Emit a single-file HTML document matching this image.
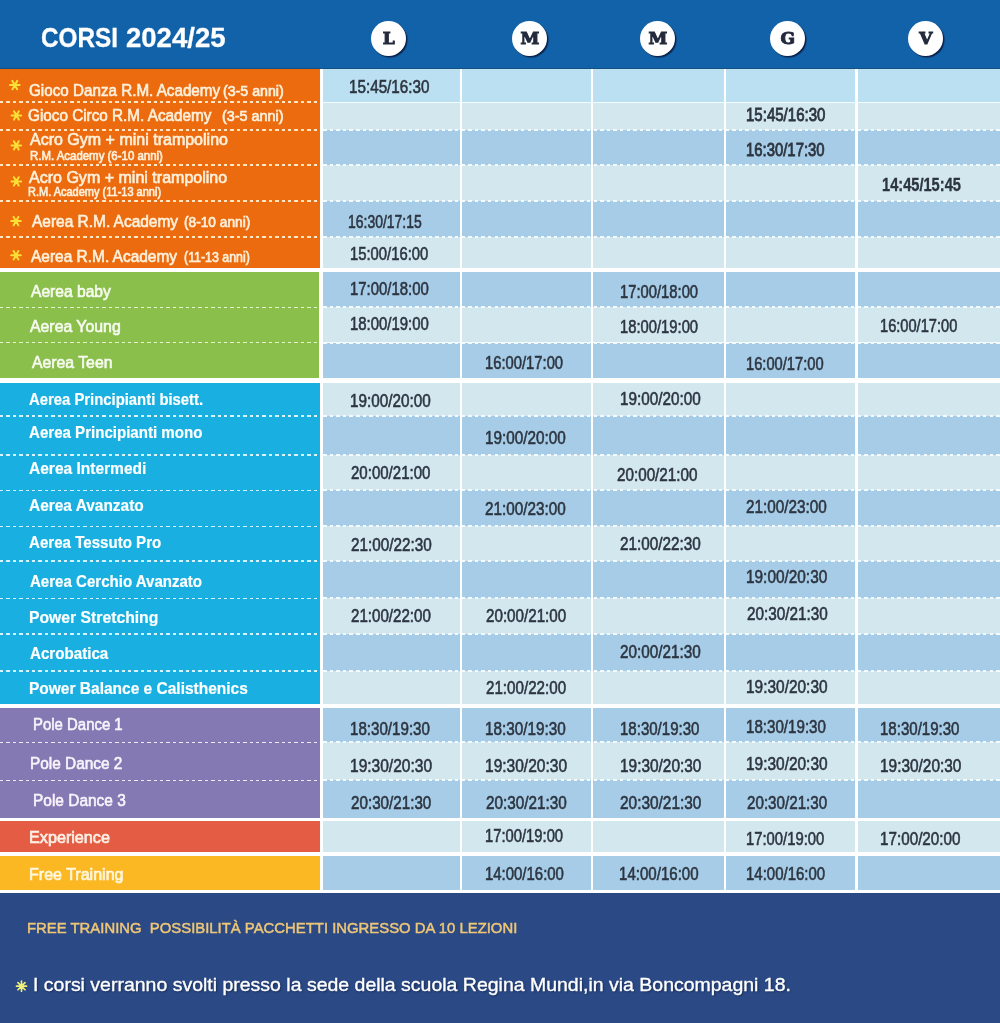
<!DOCTYPE html>
<html lang="it"><head><meta charset="utf-8"><title>Corsi 2024/25</title>
<style>
html,body{margin:0;padding:0}
body{width:1000px;height:1023px;position:relative;overflow:hidden;background:#fff;font-family:"Liberation Sans",Arial,sans-serif}
.a{position:absolute}
.t{position:absolute;white-space:nowrap;line-height:1;transform-origin:0 0}
.circ{position:absolute;width:35px;height:35px;border-radius:50%;background:#fff;box-shadow:1.5px 1.5px 1px rgba(10,25,60,.85);text-align:center;font:bold 17px/35px "DejaVu Serif","Liberation Serif",serif;color:#232a3c;-webkit-text-stroke:1px #232a3c}
</style></head><body>

<div class="a" style="left:0;top:0;width:1000px;height:69px;background:#1262a9"></div>
<div class="a" style="left:0;top:67.5px;width:1000px;height:1.5px;background:#16507f"></div>
<div class="a" style="left:0;top:69.0px;width:320px;height:198.5px;background:#ec6b0e"></div>
<div class="a" style="left:0;top:272.0px;width:319px;height:106.4px;background:#8bbf4c"></div>
<div class="a" style="left:0;top:383.0px;width:320px;height:321.3px;background:#19b0e1"></div>
<div class="a" style="left:0;top:708.2px;width:320px;height:109.5px;background:#8579b3"></div>
<div class="a" style="left:0;top:821.3px;width:320px;height:31.2px;background:#e35c43"></div>
<div class="a" style="left:0;top:856.0px;width:320px;height:33.7px;background:#fbb823"></div>
<div class="a" style="left:323px;top:69.0px;width:137px;height:33.0px;background:#bbe0f2"></div>
<div class="a" style="left:462px;top:69.0px;width:129px;height:33.0px;background:#bbe0f2"></div>
<div class="a" style="left:593px;top:69.0px;width:131px;height:33.0px;background:#bbe0f2"></div>
<div class="a" style="left:726px;top:69.0px;width:129px;height:33.0px;background:#bbe0f2"></div>
<div class="a" style="left:858px;top:69.0px;width:142px;height:33.0px;background:#bbe0f2"></div>
<div class="a" style="left:323px;top:102.0px;width:137px;height:28.0px;background:#d3e7ef"></div>
<div class="a" style="left:462px;top:102.0px;width:129px;height:28.0px;background:#d3e7ef"></div>
<div class="a" style="left:593px;top:102.0px;width:131px;height:28.0px;background:#d3e7ef"></div>
<div class="a" style="left:726px;top:102.0px;width:129px;height:28.0px;background:#d3e7ef"></div>
<div class="a" style="left:858px;top:102.0px;width:142px;height:28.0px;background:#d3e7ef"></div>
<div class="a" style="left:323px;top:130.0px;width:137px;height:35.0px;background:#a6cce7"></div>
<div class="a" style="left:462px;top:130.0px;width:129px;height:35.0px;background:#a6cce7"></div>
<div class="a" style="left:593px;top:130.0px;width:131px;height:35.0px;background:#a6cce7"></div>
<div class="a" style="left:726px;top:130.0px;width:129px;height:35.0px;background:#a6cce7"></div>
<div class="a" style="left:858px;top:130.0px;width:142px;height:35.0px;background:#a6cce7"></div>
<div class="a" style="left:323px;top:165.0px;width:137px;height:35.5px;background:#d3e7ef"></div>
<div class="a" style="left:462px;top:165.0px;width:129px;height:35.5px;background:#d3e7ef"></div>
<div class="a" style="left:593px;top:165.0px;width:131px;height:35.5px;background:#d3e7ef"></div>
<div class="a" style="left:726px;top:165.0px;width:129px;height:35.5px;background:#d3e7ef"></div>
<div class="a" style="left:858px;top:165.0px;width:142px;height:35.5px;background:#d3e7ef"></div>
<div class="a" style="left:323px;top:200.5px;width:137px;height:36.0px;background:#a6cce7"></div>
<div class="a" style="left:462px;top:200.5px;width:129px;height:36.0px;background:#a6cce7"></div>
<div class="a" style="left:593px;top:200.5px;width:131px;height:36.0px;background:#a6cce7"></div>
<div class="a" style="left:726px;top:200.5px;width:129px;height:36.0px;background:#a6cce7"></div>
<div class="a" style="left:858px;top:200.5px;width:142px;height:36.0px;background:#a6cce7"></div>
<div class="a" style="left:323px;top:236.5px;width:137px;height:31.0px;background:#d3e7ef"></div>
<div class="a" style="left:462px;top:236.5px;width:129px;height:31.0px;background:#d3e7ef"></div>
<div class="a" style="left:593px;top:236.5px;width:131px;height:31.0px;background:#d3e7ef"></div>
<div class="a" style="left:726px;top:236.5px;width:129px;height:31.0px;background:#d3e7ef"></div>
<div class="a" style="left:858px;top:236.5px;width:142px;height:31.0px;background:#d3e7ef"></div>
<div class="a" style="left:323px;top:272.0px;width:137px;height:35.4px;background:#a6cce7"></div>
<div class="a" style="left:462px;top:272.0px;width:129px;height:35.4px;background:#a6cce7"></div>
<div class="a" style="left:593px;top:272.0px;width:131px;height:35.4px;background:#a6cce7"></div>
<div class="a" style="left:726px;top:272.0px;width:129px;height:35.4px;background:#a6cce7"></div>
<div class="a" style="left:858px;top:272.0px;width:142px;height:35.4px;background:#a6cce7"></div>
<div class="a" style="left:323px;top:307.4px;width:137px;height:35.1px;background:#d3e7ef"></div>
<div class="a" style="left:462px;top:307.4px;width:129px;height:35.1px;background:#d3e7ef"></div>
<div class="a" style="left:593px;top:307.4px;width:131px;height:35.1px;background:#d3e7ef"></div>
<div class="a" style="left:726px;top:307.4px;width:129px;height:35.1px;background:#d3e7ef"></div>
<div class="a" style="left:858px;top:307.4px;width:142px;height:35.1px;background:#d3e7ef"></div>
<div class="a" style="left:323px;top:342.5px;width:137px;height:35.9px;background:#a6cce7"></div>
<div class="a" style="left:462px;top:342.5px;width:129px;height:35.9px;background:#a6cce7"></div>
<div class="a" style="left:593px;top:342.5px;width:131px;height:35.9px;background:#a6cce7"></div>
<div class="a" style="left:726px;top:342.5px;width:129px;height:35.9px;background:#a6cce7"></div>
<div class="a" style="left:858px;top:342.5px;width:142px;height:35.9px;background:#a6cce7"></div>
<div class="a" style="left:323px;top:383.0px;width:137px;height:33.0px;background:#d3e7ef"></div>
<div class="a" style="left:462px;top:383.0px;width:129px;height:33.0px;background:#d3e7ef"></div>
<div class="a" style="left:593px;top:383.0px;width:131px;height:33.0px;background:#d3e7ef"></div>
<div class="a" style="left:726px;top:383.0px;width:129px;height:33.0px;background:#d3e7ef"></div>
<div class="a" style="left:858px;top:383.0px;width:142px;height:33.0px;background:#d3e7ef"></div>
<div class="a" style="left:323px;top:416.0px;width:137px;height:39.0px;background:#a6cce7"></div>
<div class="a" style="left:462px;top:416.0px;width:129px;height:39.0px;background:#a6cce7"></div>
<div class="a" style="left:593px;top:416.0px;width:131px;height:39.0px;background:#a6cce7"></div>
<div class="a" style="left:726px;top:416.0px;width:129px;height:39.0px;background:#a6cce7"></div>
<div class="a" style="left:858px;top:416.0px;width:142px;height:39.0px;background:#a6cce7"></div>
<div class="a" style="left:323px;top:455.0px;width:137px;height:35.4px;background:#d3e7ef"></div>
<div class="a" style="left:462px;top:455.0px;width:129px;height:35.4px;background:#d3e7ef"></div>
<div class="a" style="left:593px;top:455.0px;width:131px;height:35.4px;background:#d3e7ef"></div>
<div class="a" style="left:726px;top:455.0px;width:129px;height:35.4px;background:#d3e7ef"></div>
<div class="a" style="left:858px;top:455.0px;width:142px;height:35.4px;background:#d3e7ef"></div>
<div class="a" style="left:323px;top:490.4px;width:137px;height:36.0px;background:#a6cce7"></div>
<div class="a" style="left:462px;top:490.4px;width:129px;height:36.0px;background:#a6cce7"></div>
<div class="a" style="left:593px;top:490.4px;width:131px;height:36.0px;background:#a6cce7"></div>
<div class="a" style="left:726px;top:490.4px;width:129px;height:36.0px;background:#a6cce7"></div>
<div class="a" style="left:858px;top:490.4px;width:142px;height:36.0px;background:#a6cce7"></div>
<div class="a" style="left:323px;top:526.4px;width:137px;height:34.6px;background:#d3e7ef"></div>
<div class="a" style="left:462px;top:526.4px;width:129px;height:34.6px;background:#d3e7ef"></div>
<div class="a" style="left:593px;top:526.4px;width:131px;height:34.6px;background:#d3e7ef"></div>
<div class="a" style="left:726px;top:526.4px;width:129px;height:34.6px;background:#d3e7ef"></div>
<div class="a" style="left:858px;top:526.4px;width:142px;height:34.6px;background:#d3e7ef"></div>
<div class="a" style="left:323px;top:561.0px;width:137px;height:37.3px;background:#a6cce7"></div>
<div class="a" style="left:462px;top:561.0px;width:129px;height:37.3px;background:#a6cce7"></div>
<div class="a" style="left:593px;top:561.0px;width:131px;height:37.3px;background:#a6cce7"></div>
<div class="a" style="left:726px;top:561.0px;width:129px;height:37.3px;background:#a6cce7"></div>
<div class="a" style="left:858px;top:561.0px;width:142px;height:37.3px;background:#a6cce7"></div>
<div class="a" style="left:323px;top:598.3px;width:137px;height:35.7px;background:#d3e7ef"></div>
<div class="a" style="left:462px;top:598.3px;width:129px;height:35.7px;background:#d3e7ef"></div>
<div class="a" style="left:593px;top:598.3px;width:131px;height:35.7px;background:#d3e7ef"></div>
<div class="a" style="left:726px;top:598.3px;width:129px;height:35.7px;background:#d3e7ef"></div>
<div class="a" style="left:858px;top:598.3px;width:142px;height:35.7px;background:#d3e7ef"></div>
<div class="a" style="left:323px;top:634.0px;width:137px;height:36.8px;background:#a6cce7"></div>
<div class="a" style="left:462px;top:634.0px;width:129px;height:36.8px;background:#a6cce7"></div>
<div class="a" style="left:593px;top:634.0px;width:131px;height:36.8px;background:#a6cce7"></div>
<div class="a" style="left:726px;top:634.0px;width:129px;height:36.8px;background:#a6cce7"></div>
<div class="a" style="left:858px;top:634.0px;width:142px;height:36.8px;background:#a6cce7"></div>
<div class="a" style="left:323px;top:670.8px;width:137px;height:33.5px;background:#d3e7ef"></div>
<div class="a" style="left:462px;top:670.8px;width:129px;height:33.5px;background:#d3e7ef"></div>
<div class="a" style="left:593px;top:670.8px;width:131px;height:33.5px;background:#d3e7ef"></div>
<div class="a" style="left:726px;top:670.8px;width:129px;height:33.5px;background:#d3e7ef"></div>
<div class="a" style="left:858px;top:670.8px;width:142px;height:33.5px;background:#d3e7ef"></div>
<div class="a" style="left:323px;top:708.2px;width:137px;height:34.1px;background:#a6cce7"></div>
<div class="a" style="left:462px;top:708.2px;width:129px;height:34.1px;background:#a6cce7"></div>
<div class="a" style="left:593px;top:708.2px;width:131px;height:34.1px;background:#a6cce7"></div>
<div class="a" style="left:726px;top:708.2px;width:129px;height:34.1px;background:#a6cce7"></div>
<div class="a" style="left:858px;top:708.2px;width:142px;height:34.1px;background:#a6cce7"></div>
<div class="a" style="left:323px;top:742.3px;width:137px;height:38.0px;background:#d3e7ef"></div>
<div class="a" style="left:462px;top:742.3px;width:129px;height:38.0px;background:#d3e7ef"></div>
<div class="a" style="left:593px;top:742.3px;width:131px;height:38.0px;background:#d3e7ef"></div>
<div class="a" style="left:726px;top:742.3px;width:129px;height:38.0px;background:#d3e7ef"></div>
<div class="a" style="left:858px;top:742.3px;width:142px;height:38.0px;background:#d3e7ef"></div>
<div class="a" style="left:323px;top:780.3px;width:137px;height:37.4px;background:#a6cce7"></div>
<div class="a" style="left:462px;top:780.3px;width:129px;height:37.4px;background:#a6cce7"></div>
<div class="a" style="left:593px;top:780.3px;width:131px;height:37.4px;background:#a6cce7"></div>
<div class="a" style="left:726px;top:780.3px;width:129px;height:37.4px;background:#a6cce7"></div>
<div class="a" style="left:858px;top:780.3px;width:142px;height:37.4px;background:#a6cce7"></div>
<div class="a" style="left:323px;top:821.3px;width:137px;height:31.2px;background:#d3e7ef"></div>
<div class="a" style="left:462px;top:821.3px;width:129px;height:31.2px;background:#d3e7ef"></div>
<div class="a" style="left:593px;top:821.3px;width:131px;height:31.2px;background:#d3e7ef"></div>
<div class="a" style="left:726px;top:821.3px;width:129px;height:31.2px;background:#d3e7ef"></div>
<div class="a" style="left:858px;top:821.3px;width:142px;height:31.2px;background:#d3e7ef"></div>
<div class="a" style="left:323px;top:856.0px;width:137px;height:33.7px;background:#a6cce7"></div>
<div class="a" style="left:462px;top:856.0px;width:129px;height:33.7px;background:#a6cce7"></div>
<div class="a" style="left:593px;top:856.0px;width:131px;height:33.7px;background:#a6cce7"></div>
<div class="a" style="left:726px;top:856.0px;width:129px;height:33.7px;background:#a6cce7"></div>
<div class="a" style="left:858px;top:856.0px;width:142px;height:33.7px;background:#a6cce7"></div>
<div class="a" style="left:0;top:893px;width:1000px;height:130px;background:#2a4985"></div>
<div class="a" style="left:0;top:101.0px;width:319px;height:2.0px;background:repeating-linear-gradient(90deg,#fde6c4 0 3.5px,transparent 3.5px 6.4px)"></div>
<div class="a" style="left:323px;top:101.5px;width:677px;height:1.5px;background:#f4fbfe"></div>
<div class="a" style="left:0;top:129.0px;width:319px;height:2.0px;background:repeating-linear-gradient(90deg,#fde6c4 0 3.5px,transparent 3.5px 6.4px)"></div>
<div class="a" style="left:323px;top:129.0px;width:677px;height:2px;background:repeating-linear-gradient(90deg,#f4fbfe 0 3.5px,transparent 3.5px 6.6px)"></div>
<div class="a" style="left:0;top:164.0px;width:319px;height:2.0px;background:repeating-linear-gradient(90deg,#fde6c4 0 3.5px,transparent 3.5px 6.4px)"></div>
<div class="a" style="left:323px;top:164.0px;width:677px;height:2px;background:repeating-linear-gradient(90deg,#f4fbfe 0 3.5px,transparent 3.5px 6.6px)"></div>
<div class="a" style="left:0;top:199.5px;width:319px;height:2.0px;background:repeating-linear-gradient(90deg,#fde6c4 0 3.5px,transparent 3.5px 6.4px)"></div>
<div class="a" style="left:323px;top:199.5px;width:677px;height:2px;background:repeating-linear-gradient(90deg,#f4fbfe 0 3.5px,transparent 3.5px 6.6px)"></div>
<div class="a" style="left:0;top:235.5px;width:319px;height:2.0px;background:repeating-linear-gradient(90deg,#fde6c4 0 3.5px,transparent 3.5px 6.4px)"></div>
<div class="a" style="left:323px;top:235.5px;width:677px;height:2px;background:repeating-linear-gradient(90deg,#f4fbfe 0 3.5px,transparent 3.5px 6.6px)"></div>
<div class="a" style="left:0;top:306.6px;width:319px;height:1.5px;background:repeating-linear-gradient(90deg,#e6f4cf 0 3.5px,transparent 3.5px 6.4px)"></div>
<div class="a" style="left:323px;top:306.4px;width:677px;height:2px;background:repeating-linear-gradient(90deg,#f4fbfe 0 3.5px,transparent 3.5px 6.6px)"></div>
<div class="a" style="left:0;top:341.8px;width:319px;height:1.5px;background:repeating-linear-gradient(90deg,#e6f4cf 0 3.5px,transparent 3.5px 6.4px)"></div>
<div class="a" style="left:323px;top:341.5px;width:677px;height:2px;background:repeating-linear-gradient(90deg,#f4fbfe 0 3.5px,transparent 3.5px 6.6px)"></div>
<div class="a" style="left:0;top:415.2px;width:319px;height:1.5px;background:repeating-linear-gradient(90deg,#d8f2fb 0 3.5px,transparent 3.5px 6.4px)"></div>
<div class="a" style="left:323px;top:415.0px;width:677px;height:2px;background:repeating-linear-gradient(90deg,#f4fbfe 0 3.5px,transparent 3.5px 6.6px)"></div>
<div class="a" style="left:0;top:454.2px;width:319px;height:1.5px;background:repeating-linear-gradient(90deg,#d8f2fb 0 3.5px,transparent 3.5px 6.4px)"></div>
<div class="a" style="left:323px;top:454.0px;width:677px;height:2px;background:repeating-linear-gradient(90deg,#f4fbfe 0 3.5px,transparent 3.5px 6.6px)"></div>
<div class="a" style="left:0;top:489.6px;width:319px;height:1.5px;background:repeating-linear-gradient(90deg,#d8f2fb 0 3.5px,transparent 3.5px 6.4px)"></div>
<div class="a" style="left:323px;top:489.4px;width:677px;height:2px;background:repeating-linear-gradient(90deg,#f4fbfe 0 3.5px,transparent 3.5px 6.6px)"></div>
<div class="a" style="left:0;top:525.6px;width:319px;height:1.5px;background:repeating-linear-gradient(90deg,#d8f2fb 0 3.5px,transparent 3.5px 6.4px)"></div>
<div class="a" style="left:323px;top:525.4px;width:677px;height:2px;background:repeating-linear-gradient(90deg,#f4fbfe 0 3.5px,transparent 3.5px 6.6px)"></div>
<div class="a" style="left:0;top:560.2px;width:319px;height:1.5px;background:repeating-linear-gradient(90deg,#d8f2fb 0 3.5px,transparent 3.5px 6.4px)"></div>
<div class="a" style="left:323px;top:560.0px;width:677px;height:2px;background:repeating-linear-gradient(90deg,#f4fbfe 0 3.5px,transparent 3.5px 6.6px)"></div>
<div class="a" style="left:0;top:597.5px;width:319px;height:1.5px;background:repeating-linear-gradient(90deg,#d8f2fb 0 3.5px,transparent 3.5px 6.4px)"></div>
<div class="a" style="left:323px;top:597.3px;width:677px;height:2px;background:repeating-linear-gradient(90deg,#f4fbfe 0 3.5px,transparent 3.5px 6.6px)"></div>
<div class="a" style="left:0;top:633.2px;width:319px;height:1.5px;background:repeating-linear-gradient(90deg,#d8f2fb 0 3.5px,transparent 3.5px 6.4px)"></div>
<div class="a" style="left:323px;top:633.0px;width:677px;height:2px;background:repeating-linear-gradient(90deg,#f4fbfe 0 3.5px,transparent 3.5px 6.6px)"></div>
<div class="a" style="left:0;top:670.0px;width:319px;height:1.5px;background:repeating-linear-gradient(90deg,#d8f2fb 0 3.5px,transparent 3.5px 6.4px)"></div>
<div class="a" style="left:323px;top:669.8px;width:677px;height:2px;background:repeating-linear-gradient(90deg,#f4fbfe 0 3.5px,transparent 3.5px 6.6px)"></div>
<div class="a" style="left:0;top:741.5px;width:319px;height:1.5px;background:repeating-linear-gradient(90deg,#efeaf6 0 3.5px,transparent 3.5px 6.4px)"></div>
<div class="a" style="left:323px;top:741.3px;width:677px;height:2px;background:repeating-linear-gradient(90deg,#f4fbfe 0 3.5px,transparent 3.5px 6.6px)"></div>
<div class="a" style="left:0;top:779.5px;width:319px;height:1.5px;background:repeating-linear-gradient(90deg,#efeaf6 0 3.5px,transparent 3.5px 6.4px)"></div>
<div class="a" style="left:323px;top:779.3px;width:677px;height:2px;background:repeating-linear-gradient(90deg,#f4fbfe 0 3.5px,transparent 3.5px 6.6px)"></div>
<div class="circ" style="left:371.3px;top:20.7px">L</div>
<div class="circ" style="left:512.3px;top:20.7px">M</div>
<div class="circ" style="left:640.3px;top:20.7px">M</div>
<div class="circ" style="left:770.3px;top:20.7px">G</div>
<div class="circ" style="left:908.3px;top:20.7px">V</div>
<svg class="a" style="left:0;top:0;overflow:visible" width="1" height="1"><path d="M10.00 85.05L19.60 85.05 M12.40 80.89L17.20 89.21 M17.20 80.89L12.40 89.21" stroke="#f9e034" stroke-width="2.00" stroke-linecap="round" fill="none"/></svg>
<svg class="a" style="left:0;top:0;overflow:visible" width="1" height="1"><path d="M11.60 115.45L21.20 115.45 M14.00 111.29L18.80 119.61 M18.80 111.29L14.00 119.61" stroke="#f9e034" stroke-width="2.00" stroke-linecap="round" fill="none"/></svg>
<svg class="a" style="left:0;top:0;overflow:visible" width="1" height="1"><path d="M11.50 145.40L21.10 145.40 M13.90 141.24L18.70 149.56 M18.70 141.24L13.90 149.56" stroke="#f9e034" stroke-width="2.00" stroke-linecap="round" fill="none"/></svg>
<svg class="a" style="left:0;top:0;overflow:visible" width="1" height="1"><path d="M11.50 181.40L21.10 181.40 M13.90 177.24L18.70 185.56 M18.70 177.24L13.90 185.56" stroke="#f9e034" stroke-width="2.00" stroke-linecap="round" fill="none"/></svg>
<svg class="a" style="left:0;top:0;overflow:visible" width="1" height="1"><path d="M11.20 221.10L20.80 221.10 M13.60 216.94L18.40 225.26 M18.40 216.94L13.60 225.26" stroke="#f9e034" stroke-width="2.00" stroke-linecap="round" fill="none"/></svg>
<svg class="a" style="left:0;top:0;overflow:visible" width="1" height="1"><path d="M11.20 255.25L20.80 255.25 M13.60 251.09L18.40 259.41 M18.40 251.09L13.60 259.41" stroke="#f9e034" stroke-width="2.00" stroke-linecap="round" fill="none"/></svg>
<svg class="a" style="left:0;top:0;overflow:visible" width="1" height="1"><path d="M16.50 986.20L26.50 986.20 M17.96 982.66L25.04 989.74 M21.50 981.20L21.50 991.20 M25.04 982.66L17.96 989.74" stroke="#eef07a" stroke-width="1.70" stroke-linecap="round" fill="none"/></svg>
<div class="t" style="left:349.08px;top:77.64px;font-size:18.5px;font-weight:normal;color:#2d3540;-webkit-text-stroke:0.60px #2d3540;transform:scaleX(0.8229);">15:45/16:30</div>
<div class="t" style="left:347.77px;top:213.14px;font-size:18.5px;font-weight:normal;color:#2d3540;-webkit-text-stroke:0.60px #2d3540;transform:scaleX(0.7536);">16:30/17:15</div>
<div class="t" style="left:350.02px;top:245.34px;font-size:18.5px;font-weight:normal;color:#2d3540;-webkit-text-stroke:0.60px #2d3540;transform:scaleX(0.8010);">15:00/16:00</div>
<div class="t" style="left:350.01px;top:280.14px;font-size:18.5px;font-weight:normal;color:#2d3540;-webkit-text-stroke:0.60px #2d3540;transform:scaleX(0.8063);">17:00/18:00</div>
<div class="t" style="left:350.01px;top:315.24px;font-size:18.5px;font-weight:normal;color:#2d3540;-webkit-text-stroke:0.60px #2d3540;transform:scaleX(0.8063);">18:00/19:00</div>
<div class="t" style="left:349.81px;top:392.14px;font-size:18.5px;font-weight:normal;color:#2d3540;-webkit-text-stroke:0.60px #2d3540;transform:scaleX(0.8250);">19:00/20:00</div>
<div class="t" style="left:350.55px;top:464.34px;font-size:18.5px;font-weight:normal;color:#2d3540;-webkit-text-stroke:0.60px #2d3540;transform:scaleX(0.8124);">20:00/21:00</div>
<div class="t" style="left:350.64px;top:535.64px;font-size:18.5px;font-weight:normal;color:#2d3540;-webkit-text-stroke:0.60px #2d3540;transform:scaleX(0.8258);">21:00/22:30</div>
<div class="t" style="left:350.64px;top:607.14px;font-size:18.5px;font-weight:normal;color:#2d3540;-webkit-text-stroke:0.60px #2d3540;transform:scaleX(0.8175);">21:00/22:00</div>
<div class="t" style="left:349.82px;top:720.24px;font-size:18.5px;font-weight:normal;color:#2d3540;-webkit-text-stroke:0.60px #2d3540;transform:scaleX(0.8177);">18:30/19:30</div>
<div class="t" style="left:349.79px;top:757.14px;font-size:18.5px;font-weight:normal;color:#2d3540;-webkit-text-stroke:0.60px #2d3540;transform:scaleX(0.8396);">19:30/20:30</div>
<div class="t" style="left:350.73px;top:793.54px;font-size:18.5px;font-weight:normal;color:#2d3540;-webkit-text-stroke:0.60px #2d3540;transform:scaleX(0.8216);">20:30/21:30</div>
<div class="t" style="left:485.20px;top:353.84px;font-size:18.5px;font-weight:normal;color:#2d3540;-webkit-text-stroke:0.60px #2d3540;transform:scaleX(0.7990);">16:00/17:00</div>
<div class="t" style="left:485.17px;top:428.74px;font-size:18.5px;font-weight:normal;color:#2d3540;-webkit-text-stroke:0.60px #2d3540;transform:scaleX(0.8260);">19:00/20:00</div>
<div class="t" style="left:485.17px;top:500.24px;font-size:18.5px;font-weight:normal;color:#2d3540;-webkit-text-stroke:0.60px #2d3540;transform:scaleX(0.8260);">21:00/23:00</div>
<div class="t" style="left:486.09px;top:607.14px;font-size:18.5px;font-weight:normal;color:#2d3540;-webkit-text-stroke:0.60px #2d3540;transform:scaleX(0.8206);">20:00/21:00</div>
<div class="t" style="left:486.09px;top:678.64px;font-size:18.5px;font-weight:normal;color:#2d3540;-webkit-text-stroke:0.60px #2d3540;transform:scaleX(0.8196);">21:00/22:00</div>
<div class="t" style="left:485.17px;top:720.24px;font-size:18.5px;font-weight:normal;color:#2d3540;-webkit-text-stroke:0.60px #2d3540;transform:scaleX(0.8260);">18:30/19:30</div>
<div class="t" style="left:485.16px;top:757.14px;font-size:18.5px;font-weight:normal;color:#2d3540;-webkit-text-stroke:0.60px #2d3540;transform:scaleX(0.8396);">19:30/20:30</div>
<div class="t" style="left:486.09px;top:793.54px;font-size:18.5px;font-weight:normal;color:#2d3540;-webkit-text-stroke:0.60px #2d3540;transform:scaleX(0.8258);">20:30/21:30</div>
<div class="t" style="left:485.20px;top:827.34px;font-size:18.5px;font-weight:normal;color:#2d3540;-webkit-text-stroke:0.60px #2d3540;transform:scaleX(0.7990);">17:00/19:00</div>
<div class="t" style="left:485.19px;top:865.04px;font-size:18.5px;font-weight:normal;color:#2d3540;-webkit-text-stroke:0.60px #2d3540;transform:scaleX(0.8073);">14:00/16:00</div>
<div class="t" style="left:619.56px;top:282.94px;font-size:18.5px;font-weight:normal;color:#2d3540;-webkit-text-stroke:0.60px #2d3540;transform:scaleX(0.7990);">17:00/18:00</div>
<div class="t" style="left:619.56px;top:318.34px;font-size:18.5px;font-weight:normal;color:#2d3540;-webkit-text-stroke:0.60px #2d3540;transform:scaleX(0.7990);">18:00/19:00</div>
<div class="t" style="left:619.54px;top:390.34px;font-size:18.5px;font-weight:normal;color:#2d3540;-webkit-text-stroke:0.60px #2d3540;transform:scaleX(0.8258);">19:00/20:00</div>
<div class="t" style="left:617.00px;top:465.54px;font-size:18.5px;font-weight:normal;color:#2d3540;-webkit-text-stroke:0.60px #2d3540;transform:scaleX(0.8229);">20:00/21:00</div>
<div class="t" style="left:620.17px;top:535.24px;font-size:18.5px;font-weight:normal;color:#2d3540;-webkit-text-stroke:0.60px #2d3540;transform:scaleX(0.8260);">21:00/22:30</div>
<div class="t" style="left:620.17px;top:642.94px;font-size:18.5px;font-weight:normal;color:#2d3540;-webkit-text-stroke:0.60px #2d3540;transform:scaleX(0.8260);">20:00/21:30</div>
<div class="t" style="left:620.19px;top:719.64px;font-size:18.5px;font-weight:normal;color:#2d3540;-webkit-text-stroke:0.60px #2d3540;transform:scaleX(0.8125);">18:30/19:30</div>
<div class="t" style="left:620.17px;top:756.84px;font-size:18.5px;font-weight:normal;color:#2d3540;-webkit-text-stroke:0.60px #2d3540;transform:scaleX(0.8333);">19:30/20:30</div>
<div class="t" style="left:620.17px;top:793.74px;font-size:18.5px;font-weight:normal;color:#2d3540;-webkit-text-stroke:0.60px #2d3540;transform:scaleX(0.8333);">20:30/21:30</div>
<div class="t" style="left:619.37px;top:865.34px;font-size:18.5px;font-weight:normal;color:#2d3540;-webkit-text-stroke:0.60px #2d3540;transform:scaleX(0.8146);">14:00/16:00</div>
<div class="t" style="left:745.73px;top:106.04px;font-size:18.5px;font-weight:normal;color:#2d3540;-webkit-text-stroke:0.85px #2d3540;transform:scaleX(0.8124);">15:45/16:30</div>
<div class="t" style="left:746.38px;top:140.64px;font-size:18.5px;font-weight:normal;color:#2d3540;-webkit-text-stroke:0.85px #2d3540;transform:scaleX(0.8042);">16:30/17:30</div>
<div class="t" style="left:746.39px;top:355.24px;font-size:18.5px;font-weight:normal;color:#2d3540;-webkit-text-stroke:0.60px #2d3540;transform:scaleX(0.7937);">16:00/17:00</div>
<div class="t" style="left:746.36px;top:498.34px;font-size:18.5px;font-weight:normal;color:#2d3540;-webkit-text-stroke:0.60px #2d3540;transform:scaleX(0.8260);">21:00/23:00</div>
<div class="t" style="left:746.35px;top:567.74px;font-size:18.5px;font-weight:normal;color:#2d3540;-webkit-text-stroke:0.60px #2d3540;transform:scaleX(0.8312);">19:00/20:30</div>
<div class="t" style="left:746.99px;top:605.44px;font-size:18.5px;font-weight:normal;color:#2d3540;-webkit-text-stroke:0.60px #2d3540;transform:scaleX(0.8260);">20:30/21:30</div>
<div class="t" style="left:746.35px;top:678.04px;font-size:18.5px;font-weight:normal;color:#2d3540;-webkit-text-stroke:0.60px #2d3540;transform:scaleX(0.8344);">19:30/20:30</div>
<div class="t" style="left:746.37px;top:717.84px;font-size:18.5px;font-weight:normal;color:#2d3540;-webkit-text-stroke:0.60px #2d3540;transform:scaleX(0.8177);">18:30/19:30</div>
<div class="t" style="left:746.35px;top:754.74px;font-size:18.5px;font-weight:normal;color:#2d3540;-webkit-text-stroke:0.60px #2d3540;transform:scaleX(0.8344);">19:30/20:30</div>
<div class="t" style="left:747.27px;top:793.74px;font-size:18.5px;font-weight:normal;color:#2d3540;-webkit-text-stroke:0.60px #2d3540;transform:scaleX(0.8206);">20:30/21:30</div>
<div class="t" style="left:746.02px;top:829.74px;font-size:18.5px;font-weight:normal;color:#2d3540;-webkit-text-stroke:0.60px #2d3540;transform:scaleX(0.8010);">17:00/19:00</div>
<div class="t" style="left:746.01px;top:865.34px;font-size:18.5px;font-weight:normal;color:#2d3540;-webkit-text-stroke:0.60px #2d3540;transform:scaleX(0.8094);">14:00/16:00</div>
<div class="t" style="left:881.67px;top:176.24px;font-size:18.5px;font-weight:bold;color:#2d3540;-webkit-text-stroke:0.35px #2d3540;transform:scaleX(0.7908);">14:45/15:45</div>
<div class="t" style="left:879.75px;top:317.04px;font-size:18.5px;font-weight:normal;color:#2d3540;-webkit-text-stroke:0.60px #2d3540;transform:scaleX(0.7907);">16:00/17:00</div>
<div class="t" style="left:879.73px;top:720.04px;font-size:18.5px;font-weight:normal;color:#2d3540;-webkit-text-stroke:0.60px #2d3540;transform:scaleX(0.8134);">18:30/19:30</div>
<div class="t" style="left:879.72px;top:757.14px;font-size:18.5px;font-weight:normal;color:#2d3540;-webkit-text-stroke:0.60px #2d3540;transform:scaleX(0.8330);">19:30/20:30</div>
<div class="t" style="left:879.72px;top:830.14px;font-size:18.5px;font-weight:normal;color:#2d3540;-webkit-text-stroke:0.60px #2d3540;transform:scaleX(0.8237);">17:00/20:00</div>
<div class="t" style="left:28.61px;top:81.62px;font-size:16.4px;font-weight:normal;color:#fdf0db;-webkit-text-stroke:0.65px #fdf0db;transform:scaleX(0.9282);">Gioco Danza R.M. Academy</div>
<div class="t" style="left:222.99px;top:83.75px;font-size:14.0px;font-weight:normal;color:#fdf0db;-webkit-text-stroke:0.65px #fdf0db;transform:scaleX(1.0119);">(3-5 anni)</div>
<div class="t" style="left:28.00px;top:107.12px;font-size:16.4px;font-weight:normal;color:#fdf0db;-webkit-text-stroke:0.65px #fdf0db;transform:scaleX(0.9325);">Gioco Circo R.M. Academy</div>
<div class="t" style="left:221.77px;top:109.35px;font-size:14.0px;font-weight:normal;color:#fdf0db;-webkit-text-stroke:0.65px #fdf0db;transform:scaleX(1.0259);">(3-5 anni)</div>
<div class="t" style="left:30.41px;top:131.42px;font-size:16.4px;font-weight:normal;color:#fdf0db;-webkit-text-stroke:0.65px #fdf0db;transform:scaleX(0.9767);">Acro Gym + mini trampolino</div>
<div class="t" style="left:30.41px;top:150.24px;font-size:12.0px;font-weight:normal;color:#fdf0db;-webkit-text-stroke:0.65px #fdf0db;transform:scaleX(0.9532);">R.M. Academy (6-10 anni)</div>
<div class="t" style="left:28.59px;top:168.62px;font-size:16.4px;font-weight:normal;color:#fdf0db;-webkit-text-stroke:0.65px #fdf0db;transform:scaleX(0.9778);">Acro Gym + mini trampolino</div>
<div class="t" style="left:27.66px;top:185.54px;font-size:12.0px;font-weight:normal;color:#fdf0db;-webkit-text-stroke:0.65px #fdf0db;transform:scaleX(0.9167);">R.M. Academy (11-13 anni)</div>
<div class="t" style="left:32.00px;top:213.12px;font-size:16.4px;font-weight:normal;color:#fdf0db;-webkit-text-stroke:0.65px #fdf0db;transform:scaleX(0.9432);">Aerea R.M. Academy</div>
<div class="t" style="left:184.02px;top:215.15px;font-size:14.0px;font-weight:normal;color:#fdf0db;-webkit-text-stroke:0.65px #fdf0db;transform:scaleX(0.9788);">(8-10 anni)</div>
<div class="t" style="left:30.78px;top:248.32px;font-size:16.4px;font-weight:normal;color:#fdf0db;-webkit-text-stroke:0.65px #fdf0db;transform:scaleX(0.9432);">Aerea R.M. Academy</div>
<div class="t" style="left:184.12px;top:250.35px;font-size:14.0px;font-weight:normal;color:#fdf0db;-webkit-text-stroke:0.65px #fdf0db;transform:scaleX(0.8849);">(11-13 anni)</div>
<div class="t" style="left:31.00px;top:282.83px;font-size:16.5px;font-weight:normal;color:#f6faef;-webkit-text-stroke:0.65px #f6faef;transform:scaleX(0.9459);">Aerea baby</div>
<div class="t" style="left:29.61px;top:318.03px;font-size:16.5px;font-weight:normal;color:#f6faef;-webkit-text-stroke:0.65px #f6faef;transform:scaleX(0.9596);">Aerea Young</div>
<div class="t" style="left:32.00px;top:353.83px;font-size:16.5px;font-weight:normal;color:#f6faef;-webkit-text-stroke:0.65px #f6faef;transform:scaleX(0.9566);">Aerea Teen</div>
<div class="t" style="left:28.70px;top:391.26px;font-size:17.3px;font-weight:bold;color:#ffffff;-webkit-text-stroke:0.20px #ffffff;transform:scaleX(0.8592);">Aerea Principianti bisett.</div>
<div class="t" style="left:28.69px;top:424.16px;font-size:17.3px;font-weight:bold;color:#ffffff;-webkit-text-stroke:0.20px #ffffff;transform:scaleX(0.8721);">Aerea Principianti mono</div>
<div class="t" style="left:28.67px;top:460.16px;font-size:17.3px;font-weight:bold;color:#ffffff;-webkit-text-stroke:0.20px #ffffff;transform:scaleX(0.8984);">Aerea Intermedi</div>
<div class="t" style="left:28.67px;top:497.36px;font-size:17.3px;font-weight:bold;color:#ffffff;-webkit-text-stroke:0.20px #ffffff;transform:scaleX(0.8937);">Aerea Avanzato</div>
<div class="t" style="left:28.69px;top:534.06px;font-size:17.3px;font-weight:bold;color:#ffffff;-webkit-text-stroke:0.20px #ffffff;transform:scaleX(0.8733);">Aerea Tessuto Pro</div>
<div class="t" style="left:29.81px;top:572.66px;font-size:17.3px;font-weight:bold;color:#ffffff;-webkit-text-stroke:0.20px #ffffff;transform:scaleX(0.8711);">Aerea Cerchio Avanzato</div>
<div class="t" style="left:28.90px;top:609.06px;font-size:17.3px;font-weight:bold;color:#ffffff;-webkit-text-stroke:0.20px #ffffff;transform:scaleX(0.9100);">Power Stretching</div>
<div class="t" style="left:29.81px;top:645.46px;font-size:17.3px;font-weight:bold;color:#ffffff;-webkit-text-stroke:0.20px #ffffff;transform:scaleX(0.8764);">Acrobatica</div>
<div class="t" style="left:28.91px;top:680.06px;font-size:17.3px;font-weight:bold;color:#ffffff;-webkit-text-stroke:0.20px #ffffff;transform:scaleX(0.8971);">Power Balance e Calisthenics</div>
<div class="t" style="left:32.66px;top:716.32px;font-size:16.4px;font-weight:normal;color:#f7f4fb;-webkit-text-stroke:0.60px #f7f4fb;transform:scaleX(0.9113);">Pole Dance 1</div>
<div class="t" style="left:30.45px;top:755.12px;font-size:16.4px;font-weight:normal;color:#f7f4fb;-webkit-text-stroke:0.60px #f7f4fb;transform:scaleX(0.9381);">Pole Dance 2</div>
<div class="t" style="left:32.64px;top:791.52px;font-size:16.4px;font-weight:normal;color:#f7f4fb;-webkit-text-stroke:0.60px #f7f4fb;transform:scaleX(0.9433);">Pole Dance 3</div>
<div class="t" style="left:29.43px;top:830.05px;font-size:16.6px;font-weight:normal;color:#fdf0e6;-webkit-text-stroke:0.70px #fdf0e6;transform:scaleX(0.9753);">Experience</div>
<div class="t" style="left:29.44px;top:867.25px;font-size:16.6px;font-weight:normal;color:#fff6dc;-webkit-text-stroke:0.70px #fff6dc;transform:scaleX(0.9667);">Free Training</div>
<div class="t" style="left:41.07px;top:24.00px;font-size:28.0px;font-weight:bold;color:#ffffff;-webkit-text-stroke:0.30px #ffffff;transform:scaleX(0.8678);">CORSI</div>
<div class="t" style="left:126.02px;top:24.00px;font-size:28.0px;font-weight:bold;color:#ffffff;-webkit-text-stroke:0.30px #ffffff;transform:scaleX(0.9830);">2024/25</div>
<div class="t" style="left:26.82px;top:920.16px;font-size:15.4px;font-weight:normal;color:#eec676;-webkit-text-stroke:0.50px #eec676;transform:scaleX(0.9662);">FREE TRAINING&nbsp; POSSIBILITÀ PACCHETTI INGRESSO DA 10 LEZIONI</div>
<div class="t" style="left:33.13px;top:976.06px;font-size:18.6px;font-weight:normal;color:#ffffff;-webkit-text-stroke:0.35px #ffffff;transform:scaleX(1.0476);text-shadow:1px 1px 2px rgba(0,0,20,.45);">I corsi verranno svolti presso la sede della scuola Regina Mundi,in via Boncompagni 18.</div>
</body></html>
